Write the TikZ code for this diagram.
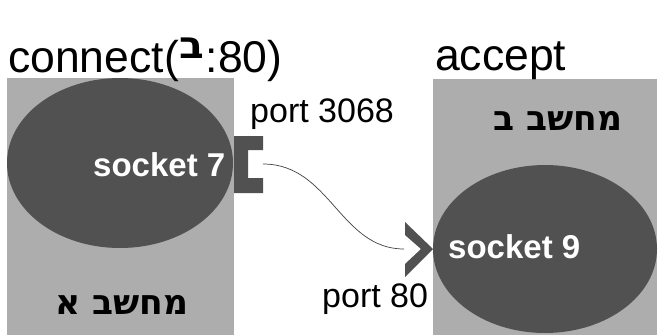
\documentclass[tikz,border=0pt]{standalone}
\usepackage{fontspec}
\usepackage{graphicx}
\setmainfont{Liberation Sans}
\newfontfamily\hebfont[Script=Hebrew]{DejaVu Sans}
\TeXXeTstate=1
\usetikzlibrary{shapes.geometric}
\definecolor{hostgray}{RGB}{173,173,173}
\definecolor{sockgray}{RGB}{81,81,81}
\definecolor{wiregray}{RGB}{64,64,64}
\tikzset{
  host/.style={fill=hostgray, draw=none},
  sock/.style={ellipse, fill=sockgray, draw=none, inner sep=0pt},
  socklabel/.style={anchor=base west, inner sep=0pt, text=white, font=\fontsize{33}{36}\selectfont\bfseries},
  hostlabel/.style={anchor=base west, inner sep=0pt, font=\fontsize{34.5}{38}\selectfont\hebfont\bfseries},
  caption/.style={anchor=base west, inner sep=0pt, font=\fontsize{44.5}{48}\selectfont},
  portlabel/.style={anchor=base west, inner sep=0pt, font=\fontsize{34}{38}\selectfont},
  portshape/.style={fill=sockgray, draw=none},
  wire/.style={draw=wiregray, line width=0.7pt}
}
\newcommand{\hostbet}{\hspace{1pt}\raisebox{13.5pt}{\scalebox{1.4}[1.3]{\fontsize{29}{31}\selectfont\hebfont\bfseries ב}}\hspace{1pt}}
\begin{document}
\begin{tikzpicture}[x=1pt, y=-1pt]
  \useasboundingbox (0,0) rectangle (658,335);
  % the two hosts
  \fill[host] (7,78) rectangle (234,335);
  \fill[host] (433,79) rectangle (657,335);
  % their sockets
  \node[sock, minimum width=226pt, minimum height=170pt] (sockA) at (120,163) {};
  \node[sock, minimum width=224pt, minimum height=168pt] (sockB) at (545,249) {};
  % ports: an open bracket on host A, a chevron on host B
  \fill[portshape] (234,136) -- (263,136) -- (263,150) -- (248,150) -- (248,178)
    -- (263,178) -- (263,193) -- (234,193) -- cycle;
  \fill[portshape] (405,222) -- (433,249) -- (405,277) -- (405,264) -- (421,249)
    -- (405,235) -- cycle;
  \coordinate (portA) at (263,164);
  \coordinate (portB) at (404,249);
  \draw[wire] (portA) .. controls (330,164) and (340,249) .. (portB);
  % labels
  \node[caption] (conn) at (8,72) {connect(\hostbet:80)};
  \node[caption] (acc) at (435,70) {accept};
  \node[portlabel] (p3068) at (250,122) {port 3068};
  \node[portlabel] (p80) at (322,307) {port 80};
  \node[socklabel] (s7) at (93,176) {socket 7};
  \node[socklabel] (s9) at (448,258) {socket 9};
  \node[hostlabel] (hA) at (55,314) {\beginR מחשב א\endR};
  \node[hostlabel] (hB) at (493,130) {\beginR מחשב ב\endR};
\end{tikzpicture}
\end{document}
